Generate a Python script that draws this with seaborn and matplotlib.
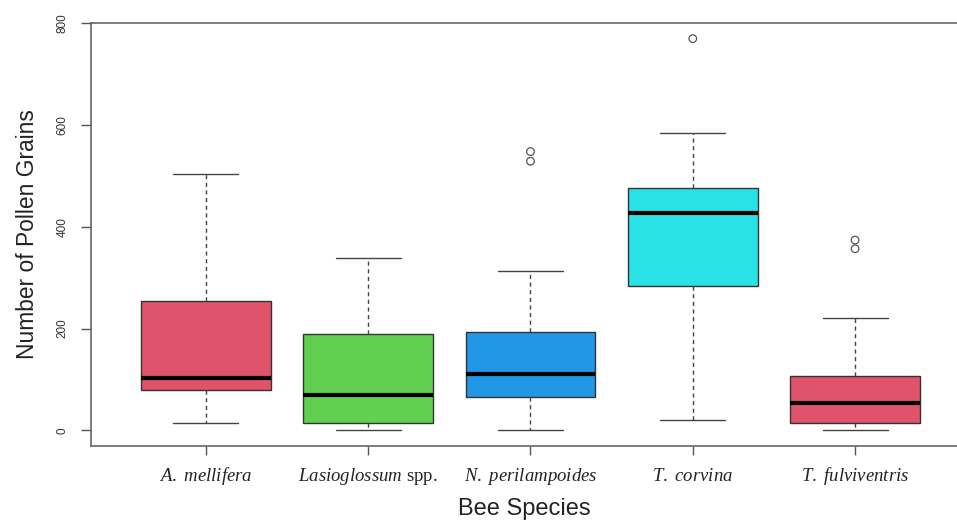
import matplotlib
matplotlib.use("Agg")
import matplotlib.pyplot as plt
import pandas as pd
import seaborn as sns

# Five-number summaries of pollen grains carried per bee species
species = ["A. mellifera", "Lasioglossum spp.", "N. perilampoides", "T. corvina", "T. fulviventris"]
tick_labels = [
    r"$\mathit{A.}$ $\mathit{mellifera}$",
    r"$\mathit{Lasioglossum}$ spp.",
    r"$\mathit{N.}$ $\mathit{perilampoides}$",
    r"$\mathit{T.}$ $\mathit{corvina}$",
    r"$\mathit{T.}$ $\mathit{fulviventris}$",
]
whisker_low = [15, 0, 0, 21, 0]
q1 = [80, 14, 66, 284, 14]
median = [102, 69, 111, 427, 53]
q3 = [255, 189, 194, 477, 106]
whisker_high = [503, 339, 313, 585, 221]

# Observations beyond the whiskers
outlier_species = ["N. perilampoides", "N. perilampoides", "T. corvina", "T. fulviventris", "T. fulviventris"]
outlier_values = [548, 529, 770, 374, 357]

box_colors = ["#DF536B", "#61D04F", "#2297E6", "#28E2E5", "#DF536B"]
y_ticks = [0, 200, 400, 600, 800]

sns.set_theme(style="ticks")
plt.rcParams["font.family"] = ["Liberation Sans", "DejaVu Sans"]
plt.rcParams["mathtext.fontset"] = "custom"
plt.rcParams["mathtext.rm"] = "Liberation Serif"
plt.rcParams["mathtext.it"] = "Liberation Serif:italic"

rows = []
for i, sp in enumerate(species):
    for v in (whisker_low[i], q1[i], median[i], q3[i], whisker_high[i]):
        rows.append({"species": sp, "grains": v})
summary = pd.DataFrame(rows)
outliers = pd.DataFrame({"species": outlier_species, "grains": outlier_values})

fig = plt.figure(figsize=(9.57, 5.22), dpi=100)
ax = fig.add_axes([91 / 957, 1 - 446 / 522, 1 - 91 / 957, (446 - 23) / 522])

sns.boxplot(
    data=summary, x="species", y="grains", order=species,
    hue="species", hue_order=species, palette=box_colors, legend=False,
    whis=(0, 100), width=0.8, showfliers=False, saturation=1,
    linecolor="#333333", linewidth=1,
    medianprops=dict(color="black", linewidth=3),
    whiskerprops=dict(color="#444444", linestyle=(0, (3, 2.5)), linewidth=1),
    capprops=dict(color="#444444", linewidth=1),
    ax=ax,
)

sns.stripplot(
    data=outliers, x="species", y="grains", order=species,
    jitter=False, marker="o", size=5.5, linewidth=0.9,
    facecolors="none", edgecolor="#555555", ax=ax,
)

ax.set_xlim(-0.708, 4.628)
ax.set_ylim(-30.8, 800.8)
ax.set_yticks(y_ticks)
ax.set_yticklabels([str(t) for t in y_ticks], rotation=90, va="center",
                   fontsize=8.5, color="#333333")
ax.set_xticks(range(len(species)))
ax.set_xticklabels(tick_labels, fontsize=13.5, color="#222222",
                   fontfamily="Liberation Serif", va="baseline")

ax.tick_params(axis="x", length=6.5, width=1, color="#555555", pad=18.5)
ax.tick_params(axis="y", length=7, width=1, color="#555555", pad=9)
for side in ("left", "bottom", "top"):
    ax.spines[side].set_color("#666666")
    ax.spines[side].set_linewidth(1.2)
ax.spines["right"].set_visible(False)

ax.set_xlabel("Bee Species", fontsize=17, color="#222222", labelpad=8)
ax.set_ylabel("Number of Pollen Grains", fontsize=16.4, color="#222222", labelpad=13)

fig.savefig("out.png", dpi=100)
